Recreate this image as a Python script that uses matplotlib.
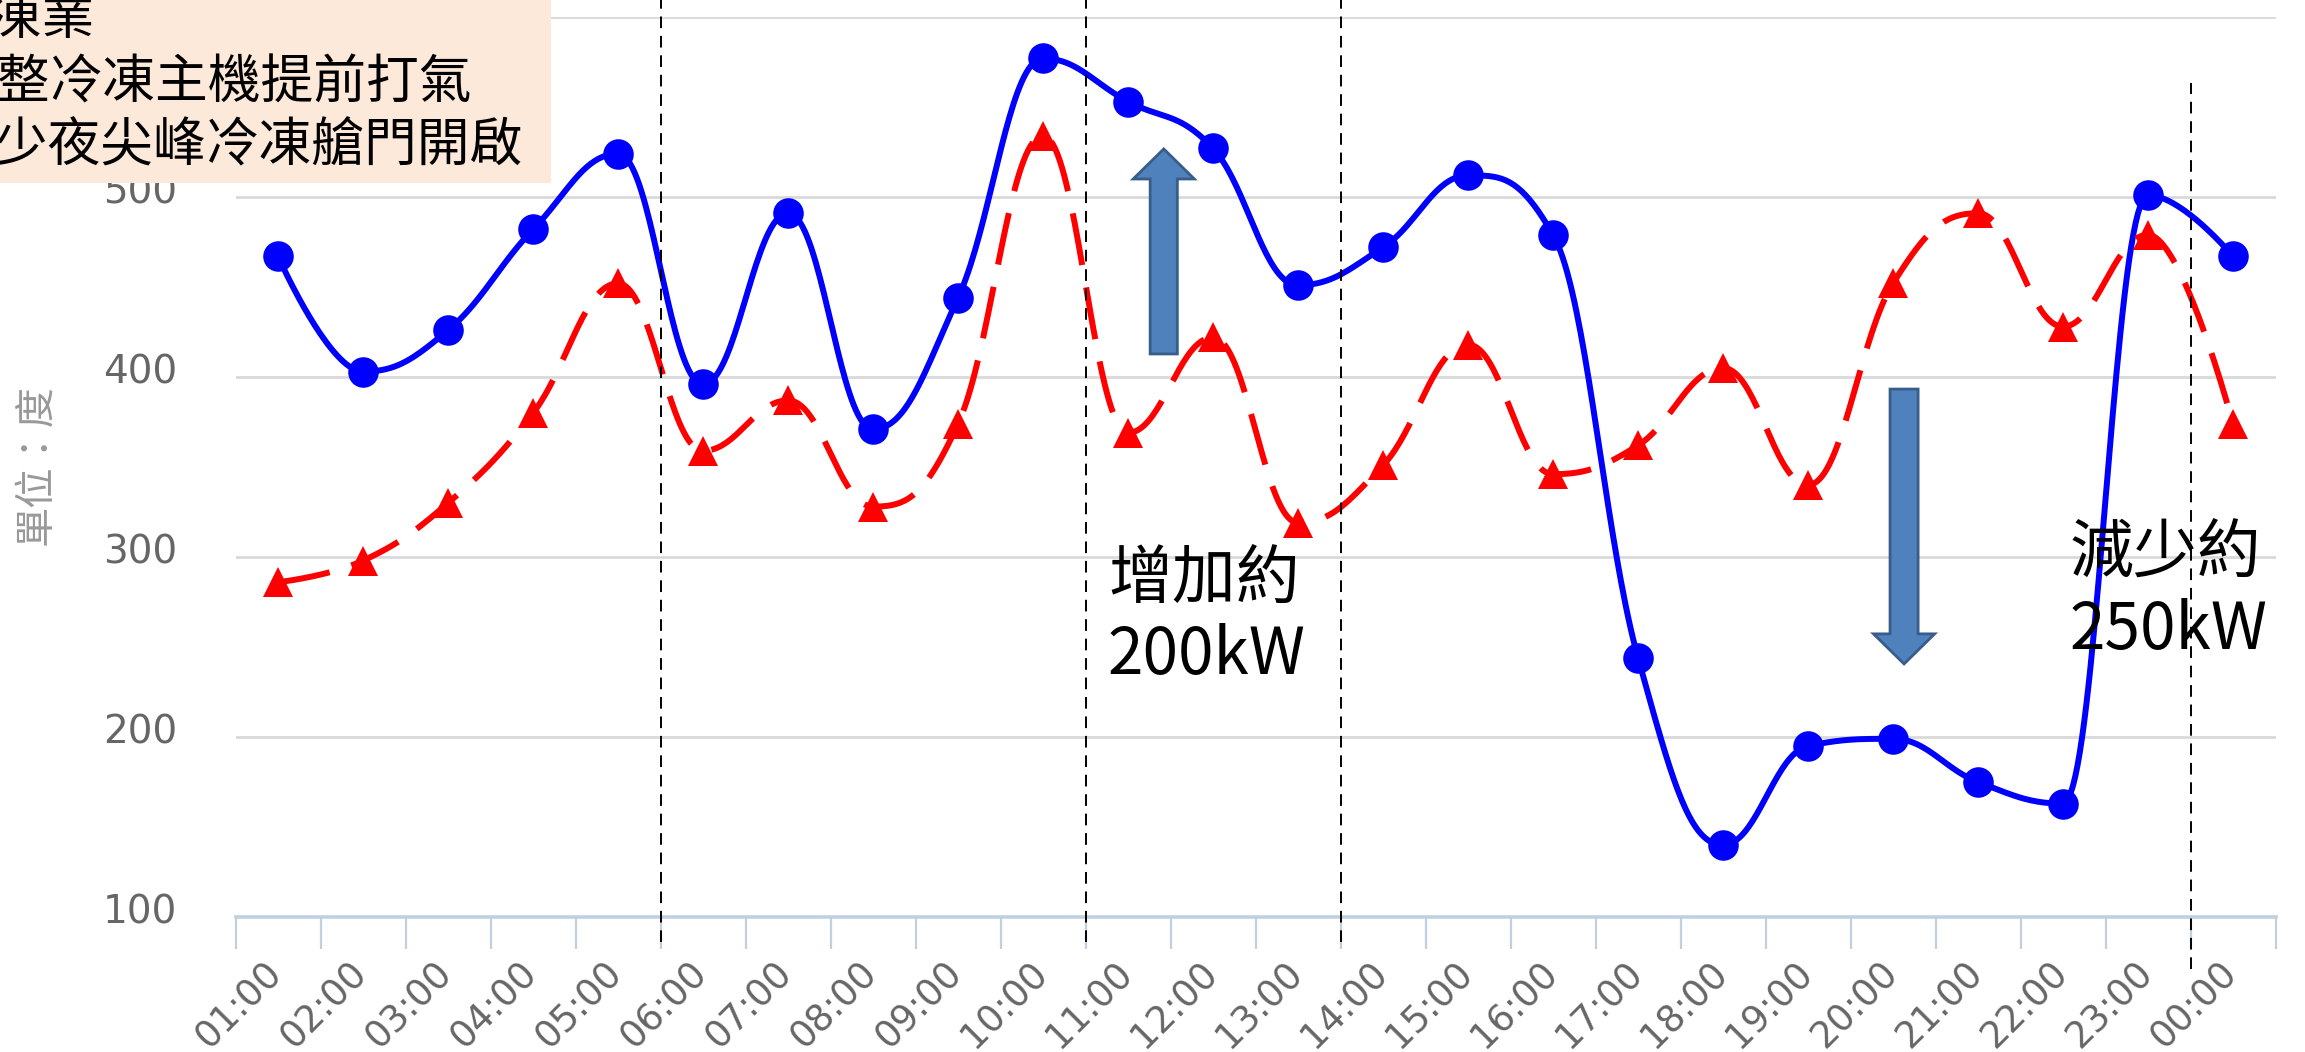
import numpy as np
import matplotlib
matplotlib.use("Agg")
import matplotlib.pyplot as plt
from matplotlib.patches import Rectangle, FancyArrow
from matplotlib.transforms import ScaledTranslation

# ---------------- data ----------------
hours = ["01:00", "02:00", "03:00", "04:00", "05:00", "06:00", "07:00", "08:00",
         "09:00", "10:00", "11:00", "12:00", "13:00", "14:00", "15:00", "16:00",
         "17:00", "18:00", "19:00", "20:00", "21:00", "22:00", "23:00", "00:00"]
series_blue = [467, 403, 426, 482, 524, 396, 491, 371, 444, 577, 553, 527,
               451, 472, 512, 479, 244, 140, 195, 199, 175, 163, 501, 467]
series_red = [286, 298, 330, 380, 452, 359, 387, 328, 374, 534, 369, 422,
              319, 351, 418, 346, 362, 405, 340, 452, 491, 428, 479, 374]
y_ticks = [100, 200, 300, 400, 500, 600]
divider_positions = [4.5, 9.5, 12.5, 22.5]
box_lines = ["冷凍業", "調整冷凍主機提前打氣", "減少夜尖峰冷凍艙門開啟"]
y_label = "單位：度"
note_up = ["增加約", "200kW"]
note_down = ["減少約", "250kW"]

W, H = 2305, 1052
CJK = ["Noto Sans CJK TC", "DejaVu Sans"]


def spline_curve(xs, ys, n=40):
    """Highcharts-style spline through the points (smoothing 1.5)."""
    xs = np.asarray(xs, float)
    ys = np.asarray(ys, float)
    N = len(xs)
    lc = [(xs[i], ys[i]) for i in range(N)]
    rc = [(xs[i], ys[i]) for i in range(N)]
    sm, den = 1.5, 2.5
    for i in range(1, N - 1):
        px, py = xs[i], ys[i]
        lx, ly = xs[i - 1], ys[i - 1]
        nx, ny = xs[i + 1], ys[i + 1]
        lcx = (sm * px + lx) / den
        lcy = (sm * py + ly) / den
        rcx = (sm * px + nx) / den
        rcy = (sm * py + ny) / den
        if rcx != lcx:
            corr = ((rcy - lcy) * (rcx - px)) / (rcx - lcx) + py - rcy
            lcy += corr
            rcy += corr
            if lcy > ly and lcy > py:
                lcy = max(ly, py); rcy = 2 * py - lcy
            elif lcy < ly and lcy < py:
                lcy = min(ly, py); rcy = 2 * py - lcy
            if rcy > ny and rcy > py:
                rcy = max(ny, py); lcy = 2 * py - rcy
            elif rcy < ny and rcy < py:
                rcy = min(ny, py); lcy = 2 * py - rcy
        lc[i] = (lcx, lcy)
        rc[i] = (rcx, rcy)
    outx, outy = [xs[0]], [ys[0]]
    t = np.linspace(0, 1, n)[1:]
    for i in range(1, N):
        p0 = np.array([xs[i - 1], ys[i - 1]])
        p1 = np.array(rc[i - 1])
        p2 = np.array(lc[i])
        p3 = np.array([xs[i], ys[i]])
        pts = ((1 - t)[:, None] ** 3 * p0 + 3 * ((1 - t) ** 2 * t)[:, None] * p1
               + 3 * ((1 - t) * t ** 2)[:, None] * p2 + (t ** 3)[:, None] * p3)
        outx.extend(pts[:, 0]); outy.extend(pts[:, 1])
    return np.array(outx), np.array(outy)


fig = plt.figure(figsize=(W / 100, H / 100), dpi=100)
fig.patch.set_facecolor("white")
ax_left, ax_right = 235.6 / W, 2275.5 / W
ax_top, ax_bot = 1 - 17 / H, 1 - 917 / H
ax = fig.add_axes([ax_left, ax_bot, ax_right - ax_left, ax_top - ax_bot])

x = np.arange(len(hours))
ax.set_xlim(-0.5, len(hours) - 0.5)
ax.set_ylim(100, 600)

# grid
ax.set_yticks(y_ticks)
ax.yaxis.grid(True, color="#d9d9d9", linewidth=2.0)
ax.set_axisbelow(True)
for s in ["top", "right", "left"]:
    ax.spines[s].set_visible(False)
ax.spines["bottom"].set_color("#c0d0e0")
ax.spines["bottom"].set_linewidth(2.6)
ax.spines["bottom"].set_zorder(1)

# x ticks: major at boundaries, labels at centers
ax.set_xticks(np.arange(-0.5, len(hours), 1.0))
ax.set_xticklabels([])
ax.tick_params(axis="x", which="major", length=23, width=1.6, color="#c0d0e0")
ax.set_xticks(x, minor=True)
ax.set_xticklabels(hours, minor=True, rotation=45, ha="right", va="top",
                   fontsize=26.5, color="#666666", family="DejaVu Sans")
ax.tick_params(axis="x", which="minor", length=0, pad=27)
for lab in ax.get_xticklabels(minor=True):
    lab.set_transform(lab.get_transform() + ScaledTranslation(0.12, 0, fig.dpi_scale_trans))

ax.tick_params(axis="y", length=0, pad=42, labelsize=28, labelcolor="#666666")
for lab in ax.get_yticklabels():
    lab.set_family("DejaVu Sans")
    lab.set_transform(lab.get_transform() + ScaledTranslation(0, 0.08, fig.dpi_scale_trans))

# series
bx, by = spline_curve(x, series_blue)
ax.plot(bx, by, color="#0000ff", linewidth=4.3, solid_capstyle="round", zorder=3)
ax.plot(x, series_blue, linestyle="none", marker="o", markersize=22,
        color="#0000ff", markeredgewidth=0, zorder=4)
rx, ry = spline_curve(x, series_red)
ax.plot(rx, ry, color="#ff0000", linewidth=4.3, dashes=(8.8, 3.8), zorder=5)
ax.plot(x, series_red, linestyle="none", marker="^", markersize=22,
        color="#ff0000", markeredgewidth=0, zorder=6)

# dashed dividers
for i, xp in enumerate(divider_positions):
    if i < 3:
        y0, y1 = -0.028, 1.02
    else:
        y0, y1 = -0.058, 0.927
    ax.axvline(xp, ymin=y0, ymax=y1, color="black", linewidth=1.4,
               dashes=(6, 4), clip_on=False, zorder=7)

# arrows
arrow_kw = dict(length_includes_head=True, facecolor="#4f81bd",
                edgecolor="#385d8a", linewidth=2, zorder=8)
ax.add_patch(FancyArrow(10.42, 412.8, 0, 526.7 - 412.8, width=0.32,
                        head_width=0.72, head_length=16.7, **arrow_kw))
ax.add_patch(FancyArrow(19.13, 393.3, 0, 240.6 - 393.3, width=0.33,
                        head_width=0.72, head_length=16.7, **arrow_kw))


def ftext(px, py, s, **kw):
    return fig.text(px / W, 1 - py / H, s, **kw)


# annotation texts
ftext(1108, 598, note_up[0], fontsize=46, family=CJK, va="baseline", zorder=9)
ftext(1108, 674, note_up[1], fontsize=46, family=CJK, va="baseline", zorder=9)
ftext(2070, 572, note_down[0], fontsize=46, family=CJK, va="baseline", zorder=9)
ftext(2070, 649, note_down[1], fontsize=46, family=CJK, va="baseline", zorder=9)

# y label
ftext(36, 465, y_label, fontsize=29, family=CJK, color="#999999",
      rotation=90, ha="center", va="center")

# top-left box
fig.patches.append(Rectangle((0, 1 - 183 / H), 551 / W, 183 / H,
                             transform=fig.transFigure, facecolor="#fde9d9",
                             edgecolor="none", zorder=20))
ftext(-63, 34, box_lines[0], fontsize=38, family=CJK, va="baseline", zorder=21)
ftext(-55, 98, box_lines[1], fontsize=38, family=CJK, va="baseline", zorder=21)
ftext(-58, 161, box_lines[2], fontsize=38, family=CJK, va="baseline", zorder=21)

fig.savefig("out.png", dpi=100)
